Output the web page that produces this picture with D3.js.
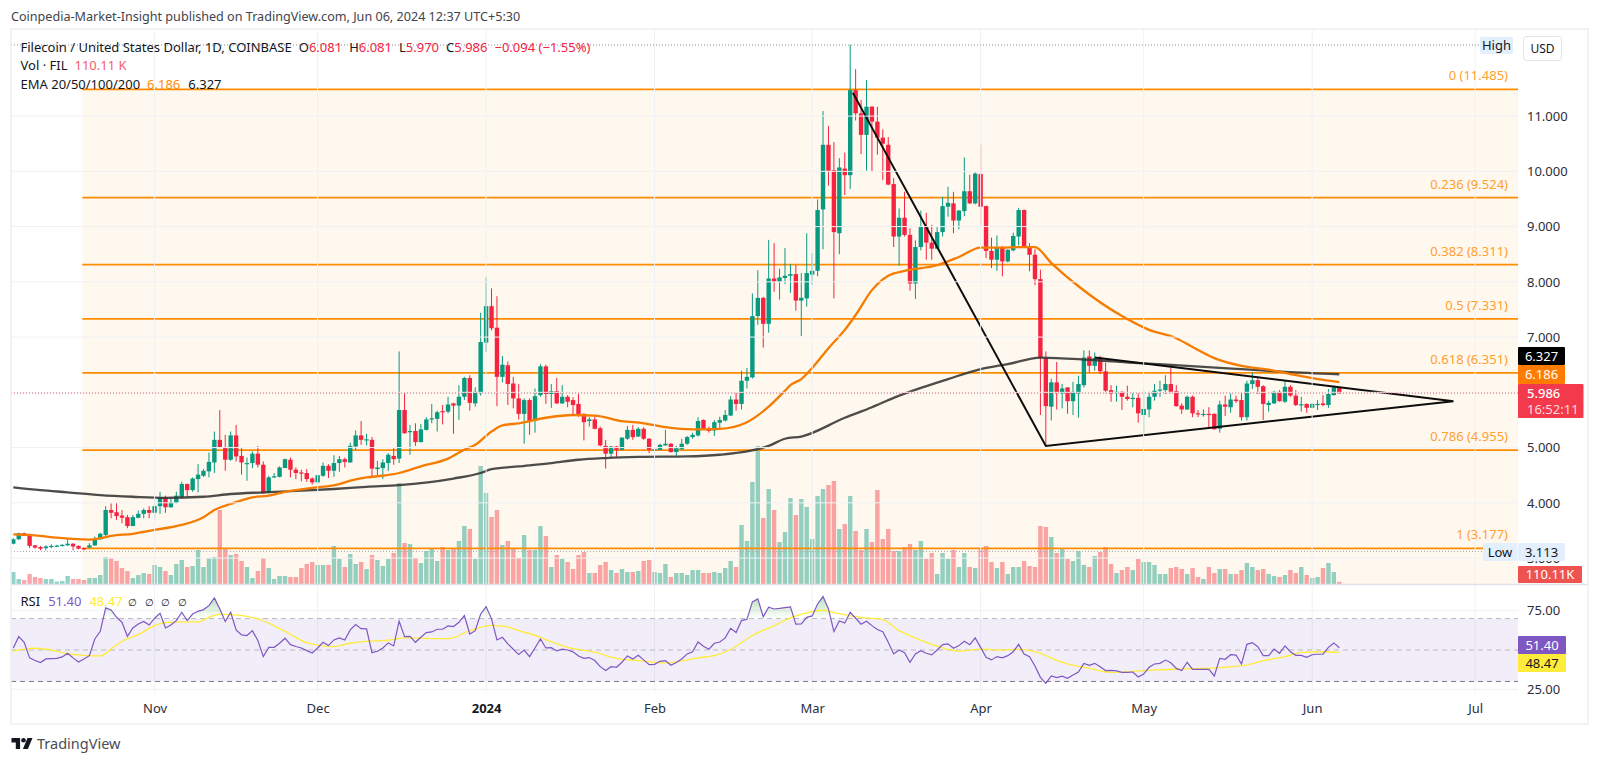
<!DOCTYPE html>
<html>
<head>
<meta charset="utf-8">
<script src="https://cdn.jsdelivr.net/npm/d3@7"></script>
<style>
html, body { margin: 0; padding: 0; background: #fff; }
svg { display: block; font-family: "Noto Sans", sans-serif; }
</style>
</head>
<body>
<svg id="chart" width="1600" height="763"></svg>
<script>
// daily candles, Oct 6 2023 -> Jun 6 2024
const opens = [3.26,3.34,3.45,3.42,3.23,3.20,3.18,3.21,3.215,3.22,
3.23,3.26,3.22,3.18,3.19,3.23,3.34,3.42,3.87,3.83,
3.77,3.74,3.58,3.73,3.80,3.87,3.82,3.94,4.10,3.92,
4.00,4.10,4.34,4.23,4.43,4.49,4.57,4.73,5.14,5.01,
4.78,5.22,4.85,4.70,4.72,4.89,4.69,4.19,4.47,4.47,
4.63,4.78,4.60,4.55,4.54,4.44,4.37,4.49,4.67,4.58,
4.72,4.79,4.73,5.02,5.22,5.145,5.14,4.61,4.63,4.72,
4.85,4.80,5.68,5.28,5.30,5.10,5.32,5.52,5.52,5.66,
5.65,5.80,5.76,5.92,6.26,5.80,6.00,6.90,7.56,7.17,
6.28,6.49,6.16,5.89,5.61,5.86,5.48,5.95,6.47,5.97,
6.02,5.80,5.92,5.86,5.79,5.61,5.48,5.51,5.35,5.03,
4.89,5.02,4.96,5.16,5.32,5.20,5.34,5.16,4.96,4.96,
5.04,5.07,4.92,4.97,5.07,5.19,5.22,5.50,5.34,5.31,
5.45,5.49,5.58,5.87,5.79,6.21,6.27,7.38,7.71,7.24,
8.06,8.00,8.07,8.11,8.14,7.66,7.70,8.13,8.20,9.31,
10.48,10.02,8.88,10.05,9.93,11.47,11.05,10.66,11.17,10.90,
10.61,10.48,9.77,8.82,9.16,8.85,7.97,8.63,9.00,8.71,
8.60,8.90,9.36,9.42,9.11,9.28,9.64,9.42,9.95,9.37,
8.56,8.40,8.63,8.37,8.57,8.82,9.30,8.63,8.49,8.05,
6.62,5.74,6.18,5.98,6.09,5.84,5.98,6.13,6.65,6.48,
6.62,6.38,6.04,6.00,6.01,5.92,5.89,5.90,5.59,5.69,
5.92,6.04,6.04,6.15,6.02,5.76,5.69,5.92,5.62,5.60,
5.61,5.61,5.34,5.78,5.73,5.87,5.86,5.55,6.15,6.22,
6.11,5.77,5.80,6.01,5.83,6.10,5.94,5.78,5.79,5.72,
5.78,5.80,5.77,5.95,6.081];
const highs = [3.36,3.46,3.46,3.44,3.24,3.22,3.23,3.25,3.24,3.25,
3.36,3.27,3.23,3.19,3.27,3.39,3.46,3.94,3.99,4.00,
3.87,3.78,3.78,3.86,3.90,3.94,4.11,4.20,4.13,4.11,
4.20,4.38,4.35,4.46,4.70,4.61,4.91,5.29,5.68,5.23,
5.29,5.41,4.99,4.82,4.93,5.03,4.75,4.49,4.54,4.66,
4.80,4.82,4.64,4.60,4.61,4.46,4.51,4.73,4.70,4.86,
4.85,4.82,5.09,5.31,5.48,5.25,5.19,4.76,4.79,4.90,
4.99,6.74,6.00,5.41,5.44,5.43,5.55,5.79,5.67,5.77,
5.92,5.81,6.13,6.28,6.31,6.09,7.44,8.08,7.88,7.74,
6.66,6.56,6.28,6.15,5.89,5.89,6.07,6.51,6.50,6.15,
6.26,6.13,5.95,5.91,5.97,5.62,5.55,5.56,5.38,5.14,
5.03,5.03,5.19,5.39,5.41,5.37,5.37,5.17,5.01,5.07,
5.32,5.08,5.03,5.16,5.21,5.27,5.55,5.51,5.38,5.50,
5.56,5.68,5.93,5.99,6.39,6.44,7.79,8.21,7.73,8.76,
8.70,8.24,8.61,8.32,8.30,8.16,8.88,8.52,9.49,11.09,
10.82,10.53,10.24,10.34,12.29,11.85,11.29,11.65,11.18,11.17,
10.76,10.62,9.88,9.33,9.63,8.97,8.75,9.29,9.25,9.03,
8.99,9.54,9.72,9.63,9.30,10.25,9.94,9.98,10.48,9.38,
8.80,8.84,8.65,8.59,8.89,9.34,9.31,8.70,8.59,8.22,
6.74,6.25,6.55,6.15,6.09,6.19,6.30,6.76,6.76,6.72,
6.66,6.54,6.13,6.12,6.02,6.12,5.98,5.98,6.03,6.01,
6.15,6.21,6.31,6.45,6.13,5.80,5.94,5.94,5.68,5.69,
5.73,5.62,5.85,5.94,5.98,5.94,5.98,6.21,6.36,6.29,
6.13,5.85,6.03,6.04,6.22,6.13,6.04,5.92,5.80,5.81,
5.86,5.95,6.06,6.12,6.081];
const lows = [3.25,3.33,3.40,3.18,3.17,3.14,3.14,3.18,3.20,3.21,
3.22,3.14,3.16,3.14,3.18,3.22,3.33,3.39,3.72,3.69,
3.63,3.54,3.58,3.72,3.72,3.72,3.70,3.80,3.82,3.91,
3.99,4.08,4.10,4.20,4.19,4.47,4.46,4.54,4.99,4.58,
4.76,4.75,4.51,4.40,4.63,4.64,4.17,4.17,4.45,4.46,
4.63,4.46,4.43,4.39,4.38,4.33,4.35,4.47,4.45,4.47,
4.56,4.64,4.73,4.95,5.05,5.04,4.47,4.49,4.43,4.58,
4.69,4.72,5.25,4.87,5.03,5.09,5.31,5.44,5.29,5.42,
5.62,5.25,5.50,5.86,5.67,5.74,5.94,6.73,7.12,5.75,
6.18,5.77,5.71,5.51,5.07,5.23,5.27,5.92,5.79,5.72,
5.79,5.79,5.73,5.59,5.56,5.13,5.38,5.33,5.02,4.62,
4.81,4.83,4.95,5.14,5.14,5.19,5.14,4.90,4.85,4.95,
5.03,4.91,4.85,4.96,5.05,5.16,5.20,5.33,5.27,5.21,
5.34,5.47,5.57,5.67,5.69,6.07,6.25,7.22,6.81,7.08,
7.82,7.68,7.96,7.80,7.48,7.02,7.55,7.94,8.10,8.59,
9.74,7.70,8.50,9.57,9.68,10.92,10.31,10.01,9.99,10.30,
9.84,9.75,8.63,8.29,8.82,7.84,7.69,8.57,8.40,8.40,
8.59,8.82,9.18,8.88,8.95,9.19,9.41,9.40,9.02,8.43,
8.25,8.20,8.10,8.35,8.55,8.66,8.61,8.19,7.94,5.59,
5.03,5.49,5.69,5.71,5.61,5.59,5.54,6.09,6.36,6.39,
6.33,5.98,5.83,5.83,5.68,5.85,5.73,5.45,5.21,5.55,
5.85,5.92,5.97,5.98,5.74,5.61,5.68,5.55,5.55,5.56,
5.35,5.33,5.27,5.57,5.63,5.81,5.49,5.49,6.06,5.97,
5.50,5.65,5.79,5.83,5.81,5.92,5.75,5.65,5.63,5.71,
5.68,5.75,5.72,5.94,5.970];
const closes = [3.34,3.45,3.40,3.22,3.19,3.17,3.21,3.22,3.225,3.24,
3.26,3.21,3.17,3.17,3.23,3.34,3.44,3.87,3.82,3.76,
3.73,3.58,3.74,3.80,3.87,3.82,3.94,4.10,3.92,4.01,
4.13,4.34,4.23,4.44,4.51,4.58,4.74,5.14,5.01,4.78,
5.22,4.84,4.73,4.72,4.89,4.69,4.17,4.46,4.48,4.64,
4.79,4.60,4.54,4.54,4.43,4.37,4.50,4.67,4.58,4.72,
4.79,4.74,5.03,5.22,5.14,5.15,4.62,4.64,4.73,4.87,
4.79,5.68,5.26,5.30,5.10,5.33,5.51,5.53,5.64,5.65,
5.78,5.76,5.92,6.26,5.81,6.01,6.91,7.56,7.16,6.28,
6.50,6.15,5.89,5.61,5.86,5.48,5.93,6.47,5.97,6.02,
5.80,5.92,5.83,5.77,5.59,5.46,5.51,5.34,5.04,4.89,
5.02,4.96,5.18,5.32,5.19,5.34,5.16,4.96,4.97,5.05,
5.07,4.92,4.99,5.07,5.19,5.23,5.48,5.34,5.30,5.46,
5.50,5.59,5.87,5.79,6.21,6.28,7.38,7.71,7.24,8.06,
8.00,8.08,8.11,8.14,7.66,7.71,8.16,8.20,9.30,10.48,
10.01,8.90,10.07,9.93,11.47,11.05,10.66,11.17,10.90,10.61,
10.50,9.76,8.82,9.16,8.85,7.97,8.63,9.00,8.71,8.60,
8.90,9.37,9.43,9.11,9.29,9.64,9.42,9.96,9.36,8.56,
8.40,8.63,8.37,8.58,8.83,9.30,8.63,8.49,8.05,6.62,
5.75,6.18,6.00,6.07,5.84,6.01,6.15,6.63,6.48,6.62,
6.38,6.03,5.98,6.01,5.92,5.88,5.90,5.62,5.70,5.92,
6.03,6.05,6.15,6.01,5.75,5.69,5.92,5.62,5.60,5.61,
5.60,5.33,5.78,5.74,5.87,5.84,5.55,6.16,6.22,6.10,
5.79,5.81,6.01,5.84,6.10,5.94,5.77,5.785,5.72,5.79,
5.79,5.77,5.97,6.09,5.986];
// volume in thousands of FIL
const volumes = [600,250,200,500,350,300,250,250,125,150,
400,250,250,200,300,300,450,1350,1300,1150,
800,650,300,450,550,500,950,850,650,450,
1000,1200,850,900,1700,850,1300,1350,3700,1800,
1450,1500,1150,850,300,650,1300,800,250,400,
400,350,350,800,1000,1100,950,950,950,1900,
1250,850,1500,1000,1100,750,1450,1200,900,1250,
1550,5050,2050,2000,1300,1050,1650,1750,1150,1850,
1700,1800,2150,2900,2750,1250,5900,4550,3350,3700,
1950,2150,1800,1300,2450,1700,1700,2900,2400,850,
1450,1250,1100,750,1450,1600,550,550,950,1100,
700,550,750,600,600,650,1150,1200,600,550,
1000,350,550,550,450,700,700,550,550,600,
550,800,1150,850,2950,2150,5100,6900,3300,4750,
3700,2100,2600,4300,3450,4250,3850,2250,4400,4750,
4950,5150,2750,3000,4400,2650,1700,2750,2100,4700,
2250,2750,1650,1650,1850,2000,1700,2150,1250,1550,
500,1550,1250,1700,850,1550,850,800,1800,1900,
1100,800,1100,500,850,850,1150,900,850,2900,
2850,2350,1550,1800,1250,1150,1650,950,850,1400,
1600,1850,1000,550,700,850,700,1250,1100,1100,
950,500,500,800,850,750,500,800,350,250,
850,550,750,750,500,500,700,1050,850,700,
750,500,400,350,450,700,550,850,450,300,
350,800,1050,600,110];
const rsiValues = [51.3,58.5,54.9,45.0,43.3,42.0,44.3,44.5,44.7,45.6,
47.9,45.0,42.4,44.3,46.4,57.0,61.9,76.8,75.5,70.8,
67.6,58.7,64.0,66.6,68.1,65.9,70.2,73.4,64.0,65.9,
68.7,74.0,68.7,72.9,74.6,75.7,78.2,83.1,76.1,68.1,
74.0,62.8,59.6,59.2,62.3,56.0,45.8,51.7,51.7,54.3,
57.5,53.4,52.2,51.3,49.6,48.1,51.3,54.9,52.8,56.4,
57.7,56.4,62.8,66.2,63.6,63.4,48.3,49.2,51.3,54.5,
52.6,68.3,58.5,58.7,54.9,58.1,61.1,61.5,63.2,63.2,
65.3,64.9,67.6,71.9,60.2,62.3,72.9,77.6,69.8,56.4,
58.1,53.9,50.5,47.1,50.0,45.8,51.3,57.0,51.3,51.5,
49.4,50.5,50.0,48.8,46.2,44.7,45.2,43.3,39.4,36.9,
39.4,39.0,42.2,46.2,44.3,46.6,43.7,40.7,40.9,42.8,
43.3,40.3,42.0,44.3,47.5,48.8,55.1,52.4,50.5,54.3,
55.1,57.7,63.8,61.1,68.7,69.5,80.6,82.5,71.2,77.2,
76.1,76.5,77.0,77.4,66.4,66.6,70.8,71.7,79.3,84.0,
76.1,61.7,68.5,67.2,74.0,70.2,66.4,68.3,65.5,63.0,
61.7,54.9,47.5,50.0,48.3,42.2,47.5,49.6,47.9,46.9,
50.0,53.4,53.9,51.1,52.8,55.6,53.4,57.7,51.7,45.4,
43.7,45.8,45.0,46.4,48.9,53.6,47.5,45.8,39.8,32.6,
28.8,33.5,32.4,33.3,32.0,34.1,36.0,41.5,40.3,41.5,
39.4,36.9,37.1,36.7,35.8,35.8,36.0,32.8,34.7,39.0,
41.1,41.5,43.6,41.9,38.3,36.9,42.2,37.7,37.7,37.7,
37.7,33.5,44.7,44.1,47.0,46.8,41.1,53.6,54.7,52.1,
46.4,46.4,50.6,47.9,52.6,48.9,46.6,46.6,45.3,47.0,
47.3,47.3,51.7,54.5,51.4];

// indicator lines, read bar by bar number (1 = first candle)
const emaFastBars = [1,5,9,15,17,19,23,27,32,36,38,41,45,48,51,56,61,63,66,69,72,76,81,84,86,89,91,94,99,104,108,113,117,121,126,131,136,140,143,144,146,148,151,154,156,159,162,165,171,175,179,183,186,189,192,197,205,210,215,218,222,227,232,236,241,245];
const emaFastVals = [3.43,3.41,3.37,3.335,3.36,3.40,3.44,3.51,3.60,3.74,3.87,3.98,4.10,4.13,4.20,4.27,4.34,4.40,4.46,4.49,4.54,4.66,4.80,4.96,5.05,5.29,5.40,5.44,5.54,5.59,5.58,5.48,5.44,5.37,5.33,5.34,5.46,5.74,6.03,6.13,6.24,6.44,6.80,7.13,7.40,7.85,8.11,8.20,8.30,8.45,8.62,8.62,8.63,8.63,8.34,7.92,7.38,7.13,6.98,6.82,6.62,6.48,6.41,6.33,6.24,6.186];
const emaSlowBars = [1,6,11,17,23,29,36,41,47,54,60,66,72,82,87,89,94,100,105,110,116,125,131,136,140,143,146,154,159,163,168,173,179,184,190,199,208,217,227,235,245];
const emaSlowVals = [4.28,4.23,4.19,4.14,4.11,4.09,4.11,4.16,4.19,4.22,4.25,4.29,4.32,4.44,4.54,4.61,4.66,4.72,4.78,4.81,4.83,4.84,4.87,4.93,5.03,5.16,5.20,5.54,5.73,5.90,6.08,6.24,6.42,6.51,6.63,6.59,6.53,6.48,6.42,6.37,6.327];
const rsiMaBars = [1,3,5,8,11,14,17,19,21,24,27,29,33,35,37,39,41,46,51,55,60,63,67,70,73,81,85,89,91,94,98,99,103,108,112,116,121,127,130,133,137,141,144,147,150,152,157,161,164,167,171,175,179,183,186,189,194,199,203,211,218,223,228,231,235,238,242,245];
const rsiMaVals = [49.2,50.5,51.1,50.0,47.7,46.6,46.2,50.7,55.6,59.8,65.5,67.4,67.9,67.9,70.8,72.7,72.5,69.8,61.9,54.7,52.2,54.3,55.8,56.2,57.7,57.2,62.3,65.7,65.3,62.3,58.1,56.6,51.7,48.6,44.7,43.3,41.8,45.0,46.4,50.3,59.2,65.5,70.4,73.6,75.3,73.8,70.8,69.3,62.3,57.7,52.4,49.4,50.5,50.0,50.4,48.9,42.2,38.3,35.8,37.3,38.1,38.8,40.5,43.2,45.8,48.5,48.9,48.47];

const fibRatios = ["0", "0.236", "0.382", "0.5", "0.618", "0.786", "1"];
const fibLevels = [11.485, 9.524, 8.311, 7.331, 6.351, 4.955, 3.177];
const trendBars = [155.5, 191, 266, 200];
const trendPrices = [11.42, 5.03, 5.84, 6.63];
const priceTicks = [11, 10, 9, 8, 7, 6, 5, 4, 3];
const rsiTicks = [75, 25];
const rsiBands = [70, 50, 30];
const monthTicks = [[2023,10,1],[2023,11,1],[2024,0,1],[2024,1,1],[2024,2,1],[2024,3,1],[2024,4,1],[2024,5,1],[2024,6,1]];
const monthLabels = ["Nov", "Dec", "2024", "Feb", "Mar", "Apr", "May", "Jun", "Jul"];

const GREEN = "#089981", RED = "#f4233f", ORANGE = "#ff8c00", PURPLE = "#7e57c2", YELLOW = "#ffeb3b", INK = "#131722";
const left = 11, axisX = 1518, frameRight = 1588, frameTop = 29, paneBottom = 584, rsiBottom = 693, frameBottom = 724;

const svg = d3.select("#chart");
const barDate = n => new Date(Date.UTC(2023, 9, 6 + n - 1));

const x = d3.scaleUtc().domain([barDate(1), barDate(245)]).range([13.3, 1339.3]);
const yPrice = d3.scaleLinear().domain([3.177, 11.485]).range([548.3, 89.3]);
const yVol = d3.scaleLinear().domain([0, 6900]).range([paneBottom, 446]);
const yRsi = d3.scaleLinear().domain([25, 75]).range([689.3, 610.7]);
const xBar = n => x(barDate(1)) + (x(barDate(2)) - x(barDate(1))) * (n - 1);

const monthDates = monthTicks.map(d => new Date(Date.UTC(d[0], d[1], d[2])));
const candles = opens.map((o, i) => ({ n: i + 1, o, h: highs[i], l: lows[i], c: closes[i], v: volumes[i] }));

const defs = svg.append("defs");
defs.append("clipPath").attr("id", "mainClip").append("rect")
    .attr("x", left).attr("y", frameTop).attr("width", axisX - left).attr("height", paneBottom - frameTop);
defs.append("clipPath").attr("id", "above70").append("rect")
    .attr("x", left).attr("y", 560).attr("width", axisX - left).attr("height", yRsi(70) - 560);
const grad = defs.append("linearGradient").attr("id", "obFill").attr("gradientUnits", "userSpaceOnUse")
    .attr("x1", 0).attr("x2", 0).attr("y1", yRsi(84)).attr("y2", yRsi(70));
grad.append("stop").attr("offset", 0).attr("stop-color", "#4caf50").attr("stop-opacity", 0.4);
grad.append("stop").attr("offset", 1).attr("stop-color", "#4caf50").attr("stop-opacity", 0);

// header
svg.append("text").attr("x", left).attr("y", 21).attr("font-size", 12.6).attr("fill", "#42444c")
    .text("Coinpedia-Market-Insight published on TradingView.com, Jun 06, 2024 12:37 UTC+5:30");

// fib background + grid
const main = svg.append("g").attr("clip-path", "url(#mainClip)");
main.append("rect").attr("x", xBar(13.7)).attr("y", yPrice(fibLevels[0]))
    .attr("width", axisX - xBar(13.7)).attr("height", paneBottom - yPrice(fibLevels[0]))
    .attr("fill", "#ff9800").attr("fill-opacity", 0.065);

const grid = svg.append("g").attr("stroke", "#f0f1f4").attr("stroke-width", 1);
grid.selectAll(".hg").data(priceTicks).join("line")
    .attr("x1", left).attr("x2", axisX).attr("y1", d => yPrice(d)).attr("y2", d => yPrice(d));
grid.selectAll(".vg").data(monthDates).join("line")
    .attr("x1", d => x(d)).attr("x2", d => x(d)).attr("y1", frameTop).attr("y2", rsiBottom);
grid.selectAll(".rg").data(rsiTicks).join("line")
    .attr("x1", left).attr("x2", axisX).attr("y1", d => yRsi(d)).attr("y2", d => yRsi(d));

// volume
main.append("g").selectAll("rect").data(candles).join("rect")
    .attr("x", d => xBar(d.n) - 2.2).attr("width", 4.4)
    .attr("y", d => yVol(d.v)).attr("height", d => paneBottom - yVol(d.v))
    .attr("fill", d => d.c >= d.o ? GREEN : "#f23645").attr("fill-opacity", 0.44);

// fib lines
const fibEnd = d => d === 3.177 ? 1483 : axisX;
main.append("g").selectAll("line").data(fibLevels).join("line")
    .attr("x1", xBar(13.7)).attr("x2", fibEnd).attr("y1", d => yPrice(d)).attr("y2", d => yPrice(d))
    .attr("stroke", ORANGE).attr("stroke-width", 1.7);

// high / low / last dotted lines
const dotted = [[yPrice(11.485) - 44.3, "#8a8d96", 1479], [551.5, "#a8abb2", 1483], [yPrice(5.986), "#e0606e", axisX]];
svg.append("g").selectAll("line").data(dotted).join("line")
    .attr("x1", left).attr("x2", d => d[2]).attr("y1", d => d[0]).attr("y2", d => d[0])
    .attr("stroke", d => d[1]).attr("stroke-width", 1).attr("stroke-dasharray", "1 2");

// candles
const candle = main.append("g").selectAll("g").data(candles).join("g");
candle.append("line")
    .attr("x1", d => xBar(d.n)).attr("x2", d => xBar(d.n))
    .attr("y1", d => yPrice(d.h)).attr("y2", d => yPrice(d.l))
    .attr("stroke", d => d.c >= d.o ? GREEN : RED).attr("stroke-width", 1);
candle.append("rect")
    .attr("x", d => xBar(d.n) - 2.2).attr("width", 4.4)
    .attr("y", d => yPrice(Math.max(d.o, d.c)))
    .attr("height", d => Math.max(1.2, Math.abs(yPrice(d.o) - yPrice(d.c))))
    .attr("fill", d => d.c >= d.o ? GREEN : RED);

// EMA lines
const barLine = y => d3.line().x(d => xBar(d[0])).y(d => y(d[1]));
const smoothLine = y => barLine(y).curve(d3.curveMonotoneX);
main.append("path").datum(d3.zip(emaSlowBars, emaSlowVals)).attr("d", smoothLine(yPrice))
    .attr("fill", "none").attr("stroke", "#3a3836").attr("stroke-width", 2.3).attr("stroke-opacity", 0.9);
main.append("path").datum(d3.zip(emaFastBars, emaFastVals)).attr("d", smoothLine(yPrice))
    .attr("fill", "none").attr("stroke", "#f57c00").attr("stroke-width", 2.3);

// triangle drawing
main.append("path").datum(d3.zip(trendBars, trendPrices)).attr("d", barLine(yPrice))
    .attr("fill", "none").attr("stroke", "#0d0d0d").attr("stroke-width", 2).attr("stroke-linejoin", "miter");

// fib labels
svg.append("g").selectAll("text").data(fibLevels).join("text")
    .attr("x", 1508).attr("y", d => yPrice(d) - 9).attr("text-anchor", "end")
    .attr("font-size", 13).attr("fill", "#ff9f2e")
    .text((d, i) => `${fibRatios[i]} (${d.toFixed(3)})`);

// RSI pane
svg.append("rect").attr("x", left).attr("y", yRsi(70)).attr("width", axisX - left)
    .attr("height", yRsi(30) - yRsi(70)).attr("fill", PURPLE).attr("fill-opacity", 0.1);
svg.append("g").selectAll("line").data(rsiBands).join("line")
    .attr("x1", left).attr("x2", axisX).attr("y1", d => yRsi(d)).attr("y2", d => yRsi(d))
    .attr("stroke", d => d === 30 ? "#787b86" : "#b8bac2").attr("stroke-width", 1).attr("stroke-dasharray", "5 4");
const rsiArea = d3.area().x((d, i) => xBar(i + 1)).y0(yRsi(70)).y1(d => yRsi(d));
svg.append("path").datum(rsiValues).attr("d", rsiArea).attr("clip-path", "url(#above70)").attr("fill", "url(#obFill)");
svg.append("path").datum(d3.zip(rsiMaBars, rsiMaVals)).attr("d", smoothLine(yRsi))
    .attr("fill", "none").attr("stroke", YELLOW).attr("stroke-width", 1.3);
svg.append("path").datum(rsiValues)
    .attr("d", d3.line().x((d, i) => xBar(i + 1)).y(d => yRsi(d)))
    .attr("fill", "none").attr("stroke", PURPLE).attr("stroke-width", 1.2);

// frame
svg.append("line").attr("x1", left).attr("x2", frameRight).attr("y1", paneBottom + 0.5).attr("y2", paneBottom + 0.5)
    .attr("stroke", "#dfe1e8").attr("stroke-width", 1.4);
svg.append("rect").attr("x", left).attr("y", frameTop).attr("width", frameRight - left).attr("height", frameBottom - frameTop)
    .attr("fill", "none").attr("stroke", "#eceef4").attr("stroke-width", 1.5);

// axes
const priceAxis = svg.append("g").attr("transform", `translate(${axisX},0)`)
    .call(d3.axisRight(yPrice).tickValues(priceTicks).tickFormat(d3.format(".3f")).tickSize(0).tickPadding(9));
const rsiAxis = svg.append("g").attr("transform", `translate(${axisX},0)`)
    .call(d3.axisRight(yRsi).tickValues(rsiTicks).tickFormat(d3.format(".2f")).tickSize(0).tickPadding(9));
const timeAxis = svg.append("g").attr("transform", "translate(0,701)")
    .call(d3.axisBottom(x).tickValues(monthDates).tickFormat((d, i) => monthLabels[i]).tickSize(0).tickPadding(3));
[priceAxis, rsiAxis, timeAxis].forEach(a => {
    a.select(".domain").remove();
    a.selectAll("text").attr("font-size", 13).attr("font-family", "'Noto Sans', sans-serif").attr("fill", "#2a2e39");
});
timeAxis.selectAll("text").filter(d => +d === +monthDates[2]).attr("font-weight", 700).attr("fill", INK);

// top-left legend
function legendLine(yPos, parts) {
    const t = svg.append("text").attr("x", 20.5).attr("y", yPos).attr("font-size", 13).attr("fill", INK);
    parts.forEach(p => t.append("tspan").attr("fill", p[1] || INK).attr("dx", p[2] || 0).text(p[0]));
}
legendLine(51.5, [["Filecoin / United States Dollar, 1D, COINBASE"], ["O", null, 7], ["6.081", RED], ["H", null, 7], ["6.081", RED],
    ["L", null, 7], ["5.970", RED], ["C", null, 7], ["5.986", RED], ["−0.094 (−1.55%)", RED, 7]]);
legendLine(70, [["Vol · FIL"], ["110.11 K", "#f0606a", 7]]);
legendLine(88.5, [["EMA 20/50/100/200"], ["6.186", ORANGE, 7], ["6.327", INK, 8]]);
legendLine(606, [["RSI"], ["51.40", PURPLE, 8], ["48.47", YELLOW, 8]]);
const naSlots = [128, 144.5, 161, 177.5];
svg.append("g").selectAll("text").data(naSlots).join("text")
    .attr("x", d => d).attr("y", 605.5).attr("font-size", 10).attr("fill", INK).text("∅");

// price tags
const tags = [
    { x: axisX, y: 347, w: 47, h: 18, fill: "#000", text: "6.327", tc: "#fff" },
    { x: axisX, y: 365, w: 47, h: 19, fill: "#ff7c00", text: "6.186", tc: "#fff" },
    { x: axisX, y: 566, w: 64, h: 17, fill: "#ef5350", text: "110.11K", tc: "#fff" },
    { x: 1483, y: 543, w: 34, h: 18, fill: "#e3effd", text: "Low", tc: INK },
    { x: axisX, y: 543, w: 47, h: 18, fill: "#e3effd", text: "3.113", tc: INK },
    { x: 1480, y: 37, w: 33, h: 17, fill: "#e3effd", text: "High", tc: INK },
    { x: axisX, y: 636, w: 48, h: 18, fill: PURPLE, text: "51.40", tc: "#fff" },
    { x: axisX, y: 654, w: 48, h: 18, fill: YELLOW, text: "48.47", tc: INK }
];
const tag = svg.append("g").selectAll("g").data(tags).join("g");
tag.append("rect").attr("x", d => d.x).attr("y", d => d.y).attr("width", d => d.w).attr("height", d => d.h)
    .attr("rx", 1).attr("fill", d => d.fill);
tag.append("text").attr("x", d => d.x + d.w / 2).attr("y", d => d.y + d.h / 2 + 4.5)
    .attr("text-anchor", "middle").attr("font-size", 13).attr("fill", d => d.tc).text(d => d.text);

svg.append("rect").attr("x", axisX).attr("y", 384).attr("width", 65.5).attr("height", 34).attr("rx", 1).attr("fill", "#f23a4c");
svg.append("text").attr("x", 1527).attr("y", 398).attr("font-size", 13).attr("font-weight", 500).attr("fill", "#fff").text("5.986");
svg.append("text").attr("x", 1527).attr("y", 414).attr("font-size", 13).attr("fill", "#ffd9dd").text("16:52:11");

// USD button
svg.append("rect").attr("x", 1523.5).attr("y", 36.5).attr("width", 38).attr("height", 24).attr("rx", 3)
    .attr("fill", "#fff").attr("stroke", "#e0e3eb");
svg.append("text").attr("x", 1542.5).attr("y", 53).attr("text-anchor", "middle").attr("font-size", 12).attr("fill", INK).text("USD");

// TradingView mark
const logo = svg.append("g").attr("transform", "translate(11.5,738)").attr("fill", "#131722");
logo.append("path").attr("d", "M0 0H8.6V11H4.3V4.4H0Z");
logo.append("circle").attr("cx", 12).attr("cy", 2.3).attr("r", 2.3);
logo.append("path").attr("d", "M21 0L16.4 11H11.4L16 0Z");
svg.append("text").attr("x", 37).attr("y", 749).attr("font-size", 14.5).attr("fill", "#4a4c54").text("TradingView");
</script>
</body>
</html>
